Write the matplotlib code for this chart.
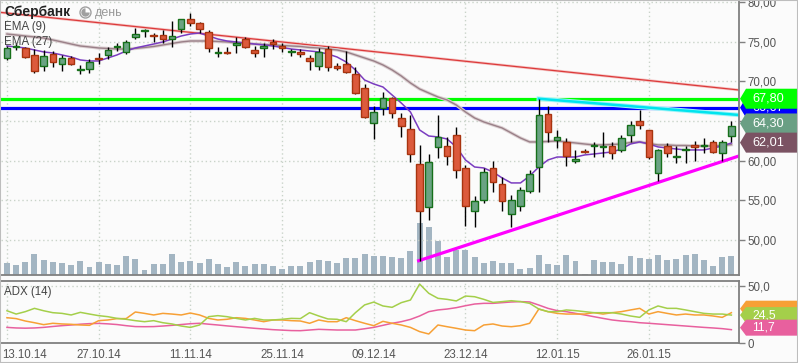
import matplotlib
matplotlib.use('Agg')
import matplotlib.pyplot as plt
from matplotlib.patches import Polygon, Rectangle, Circle, Wedge
from matplotlib.transforms import IdentityTransform
import numpy as np

plt.rcParams['font.family'] = ['Liberation Sans', 'DejaVu Sans']

# daily candles 13.10.14 .. 06.02.15
opens = [72.9, 74.3, 74.2, 73.3, 71.9, 73.45, 72.2, 72.95, 71.4, 71.55,
         72.9, 73.3, 74.3, 73.7, 75.6, 76.3, 75.85, 75.85, 75.3, 76.6,
         77.85, 77.35, 76.2, 73.6, 73.75, 74.55, 75.3, 73.95, 74.15, 75.0,
         74.45, 73.7, 73.65, 72.9, 71.95, 74.05, 71.9, 72.2, 70.9, 69.1,
         64.75, 66.6, 67.87, 65.35, 63.96, 59.55, 54.2, 61.7, 61.85, 63.24,
         59.05, 53.7, 55.05, 59.05, 57.07, 53.25, 54.3, 56.2, 59.17, 65.9,
         62.6, 62.35, 59.95, 61.25, 61.8, 61.7, 61.9, 61.35, 63.25, 65.0,
         63.8, 58.45, 61.9, 60.5, 61.35, 61.95, 61.85, 62.4, 60.9, 63.05]
highs = [74.45, 74.8, 74.3, 74.1, 74.0, 73.8, 73.3, 73.2, 72.1, 72.8,
         73.6, 74.3, 74.8, 75.15, 76.7, 76.6, 76.1, 76.5, 77.6, 77.9,
         78.6, 77.5, 76.5, 74.3, 74.3, 75.6, 75.6, 74.4, 74.8, 75.3,
         74.8, 74.05, 74.05, 73.3, 74.15, 74.4, 72.3, 73.85, 71.8, 69.7,
         66.9, 68.7, 68.07, 66.05, 65.76, 62.0, 60.85, 65.76, 62.95, 64.2,
         59.46, 55.47, 59.05, 59.97, 57.9, 55.7, 56.73, 58.83, 67.8, 66.9,
         63.9, 62.9, 61.3, 61.4, 62.35, 63.6, 62.3, 63.25, 64.95, 66.4,
         63.9, 61.4, 62.2, 61.8, 61.9, 62.45, 62.85, 62.65, 62.55, 64.95]
lows = [72.7, 73.95, 72.9, 71.05, 71.3, 71.8, 71.3, 72.1, 70.9, 71.05,
        72.2, 72.8, 73.8, 73.5, 75.3, 75.6, 75.0, 74.8, 74.3, 76.1,
        77.0, 76.1, 73.7, 73.1, 73.5, 73.6, 74.2, 73.0, 73.0, 74.05,
        73.75, 73.2, 73.1, 71.4, 71.4, 71.35, 71.4, 71.0, 68.4, 65.35,
        62.7, 65.76, 65.35, 63.03, 59.88, 47.37, 52.45, 60.3, 59.46, 57.8,
        51.7, 51.65, 54.7, 56.1, 53.7, 51.6, 53.6, 55.9, 56.1, 62.3,
        61.6, 59.3, 59.7, 60.9, 60.4, 60.45, 60.25, 61.1, 62.4, 64.0,
        60.25, 57.4, 60.4, 59.7, 59.7, 60.0, 60.9, 60.9, 60.0, 62.35]
closes = [74.2, 74.45, 73.1, 71.3, 73.2, 72.4, 72.9, 72.2, 71.5, 72.45,
          72.8, 73.95, 74.4, 74.95, 75.97, 76.4, 75.7, 75.3, 75.7, 77.85,
          77.35, 76.6, 74.2, 73.7, 73.6, 74.8, 74.3, 73.6, 74.5, 74.7,
          74.15, 73.8, 73.4, 72.5, 73.7, 71.8, 71.7, 71.2, 68.55, 65.55,
          66.15, 67.87, 65.97, 64.3, 60.85, 53.7, 59.88, 63.03, 60.6, 58.83,
          54.33, 54.84, 58.6, 57.3, 54.84, 55.05, 56.3, 58.33, 65.76, 63.6,
          63.0, 60.55, 60.25, 61.1, 61.9, 61.8, 60.9, 62.8, 64.5, 64.45,
          60.5, 61.3, 60.9, 60.6, 61.45, 61.7, 61.95, 61.05, 62.4, 64.3]
volumes = [123, 100, 130, 210, 150, 130, 120, 100, 140, 80,
           130, 110, 100, 190, 160, 50, 110, 110, 210, 130,
           140, 120, 160, 110, 80, 130, 90, 110, 110, 90,
           60, 90, 90, 130, 150, 140, 120, 170, 170, 210,
           190, 190, 180, 170, 240, 520, 480, 340, 180, 250,
           250, 180, 120, 140, 120, 120, 60, 70, 200, 110,
           100, 200, 140, 10, 150, 130, 130, 110, 190, 170,
           160, 200, 150, 160, 200, 210, 150, 90, 180, 190]
ema9 = [74.45, 74.33, 74.20, 73.95, 73.70, 73.57, 73.32, 73.06, 72.69, 72.56,
        72.56, 72.94, 73.32, 73.82, 74.20, 74.45, 74.70, 74.96, 75.33, 75.71,
        75.96, 76.09, 75.71, 75.33, 75.08, 74.96, 74.83, 74.70, 74.58, 74.45,
        74.26, 74.07, 73.95, 73.82, 73.70, 73.44, 73.06, 72.43, 71.43, 70.16,
        69.66, 69.28, 68.27, 67.26, 66.13, 63.86, 63.10, 62.98, 62.72, 61.72,
        60.08, 59.19, 59.07, 58.56, 57.81, 57.18, 57.18, 58.06, 59.19, 60.08,
        60.45, 60.45, 60.45, 60.71, 60.83, 60.96, 61.09, 61.46, 62.09, 62.35,
        62.09, 61.72, 61.59, 61.46, 61.34, 61.34, 61.34, 61.59, 61.84, 62.22]
ema27 = [75.96, 75.84, 75.71, 75.59, 75.46, 75.21, 74.96, 74.70, 74.45, 74.33,
         74.20, 74.14, 74.07, 74.07, 74.14, 74.26, 74.39, 74.58, 74.77, 74.96,
         75.08, 75.08, 75.08, 75.02, 74.96, 74.83, 74.77, 74.70, 74.64, 74.58,
         74.51, 74.45, 74.39, 74.26, 74.20, 74.07, 73.95, 73.70, 73.32, 72.94,
         72.56, 72.06, 71.43, 70.67, 69.79, 69.03, 68.52, 68.02, 67.64, 67.01,
         66.13, 65.37, 64.87, 64.49, 64.11, 63.48, 62.85, 62.35, 62.35, 62.41,
         62.47, 62.35, 62.22, 62.09, 61.97, 61.97, 62.03, 62.09, 62.28, 62.35,
         62.16, 61.97, 61.97, 61.90, 61.90, 61.84, 61.84, 61.84, 61.90, 62.01]
adx = [13.7, 13.2, 13.0, 13.2, 13.7, 14.5, 15.2, 15.8, 16.5, 17.0,
       17.2, 16.8, 16.2, 15.2, 14.4, 14.3, 14.4, 14.9, 15.5, 16.2,
       16.9, 17.3, 16.5, 15.8, 15.0, 14.3, 13.6, 12.9, 12.3, 11.7,
       11.3, 10.9, 10.8, 11.4, 12.0, 11.7, 11.4, 11.4, 11.4, 12.5,
       13.7, 15.5, 17.3, 18.7, 20.7, 23.7, 27.5, 29.0, 29.8, 31.0,
       32.7, 34.2, 34.8, 34.8, 35.4, 36.0, 36.3, 36.0, 33.3, 30.4,
       28.4, 27.5, 26.0, 24.6, 23.1, 21.6, 20.2, 19.3, 18.7, 17.8,
       17.3, 16.7, 16.1, 15.5, 14.9, 14.3, 13.7, 13.2, 12.6, 11.7]
di_green = [28.3, 25.4, 27.5, 30.4, 28.3, 26.6, 26.0, 24.6, 26.9, 25.4,
            24.0, 23.1, 21.6, 20.8, 19.6, 18.7, 19.6, 17.8, 16.7, 14.9,
            13.7, 15.8, 23.1, 24.0, 23.1, 21.6, 20.2, 21.6, 20.2, 20.2,
            20.8, 21.6, 21.4, 26.6, 23.7, 21.1, 20.8, 18.7, 26.6, 33.4,
            35.9, 32.5, 31.3, 35.4, 37.7, 51.7, 43.6, 39.2, 38.3, 36.9,
            41.2, 40.6, 38.3, 35.6, 36.3, 37.1, 36.3, 34.8, 29.8, 27.5,
            27.5, 29.0, 28.4, 27.5, 26.6, 26.6, 26.6, 25.4, 23.7, 22.5,
            29.0, 32.5, 30.4, 30.4, 29.0, 27.5, 26.0, 25.4, 25.4, 24.5]
di_orange = [22.2, 21.4, 19.3, 17.8, 16.1, 17.3, 16.7, 16.4, 15.8, 15.5,
             19.6, 20.2, 21.4, 21.4, 27.2, 26.0, 24.6, 26.0, 25.4, 24.6,
             26.3, 24.6, 21.6, 20.2, 20.8, 22.2, 21.6, 20.2, 18.7, 20.2,
             20.2, 19.6, 19.3, 17.3, 20.2, 18.7, 18.7, 22.2, 19.6, 17.3,
             15.2, 19.0, 17.3, 15.8, 13.7, 10.0, 7.9, 15.8, 14.3, 12.9,
             11.4, 10.8, 15.8, 16.7, 14.9, 14.3, 15.2, 17.3, 29.8, 27.5,
             26.0, 25.4, 25.4, 25.4, 26.6, 25.4, 26.6, 27.5, 29.0, 30.4,
             25.4, 27.5, 26.0, 24.6, 25.4, 24.6, 24.6, 23.7, 22.5, 26.6]
date_pos = [0, 10, 20, 30, 40, 50, 60, 70]
date_labels = ['13.10.14', '27.10.14', '11.11.14', '25.11.14', '09.12.14',
               '23.12.14', '12.01.15', '26.01.15']
level_green = 67.80
level_blue = 66.67
red_x, red_y = [-0.65, 79.83], [78.68, 68.9]
cyan_x, cyan_y = [58, 79.83], [67.8, 65.75]
mag_x, mag_y = [44.9, 79.83], [47.37, 60.58]

W, H = 798, 363
BG = '#fbfbfb'
GRID = '#c9d3c9'
fig = plt.figure(figsize=(W / 100, H / 100), dpi=100)
fig.patch.set_facecolor(BG)


def box(x0, y0, x1, y1):
    return [x0 / W, 1 - y1 / H, (x1 - x0) / W, (y1 - y0) / H]


XL = (-0.65, 79.83)
ax_v = fig.add_axes(box(1, 0, 739, 275))
ax = fig.add_axes(box(1, 0, 739, 275))
ax_adx = fig.add_axes(box(1, 281, 739, 343))

# volume (back layer)
ax_v.set_facecolor(BG)
idx = np.arange(len(opens))
ax_v.bar(idx, volumes, width=0.65, color='#a3b5c2', zorder=2)
ax_v.set_ylim(0, 2750)
ax_v.set_xlim(*XL)
ax_v.set_xticks([])
ax_v.set_yticks([])
for s in ax_v.spines.values():
    s.set_visible(False)
for p in date_pos:
    ax_v.axvline(p, color=GRID, lw=1, ls=(0, (1, 2)), zorder=1)

# price layer
ax.patch.set_visible(False)
ax.set_xlim(*XL)
ax.set_ylim(45.57, 80.25)
for v in range(50, 81, 5):
    ax.axhline(v, color=GRID, lw=1, ls=(0, (1, 2)), zorder=0)

ax.plot(red_x, red_y, color='#f5c6c6', lw=2.0, zorder=1)
ax.plot(red_x, red_y, color='#dc3a3a', lw=0.9, zorder=1)
ax.axhline(level_green, color='#00ff00', lw=2.3, zorder=2)
ax.axhline(level_blue, color='#0000ff', lw=2.3, zorder=2)
ax.plot(cyan_x, cyan_y, color='#9ff4f8', lw=3.2, zorder=2)
ax.plot(cyan_x, cyan_y, color='#00e4ee', lw=1.8, zorder=2)
ax.plot(mag_x, mag_y, color='#ff00ff', lw=2.3, zorder=2)

ax.plot(idx, ema27, color='#dcd0d2', lw=2.4, zorder=2)
ax.plot(idx, ema27, color='#9a8088', lw=1.0, zorder=2)
ax.plot(idx, ema9, color='#7a3cc0', lw=1.1, zorder=2)

o, hi, lo, c = map(np.array, (opens, highs, lows, closes))
up = c >= o
ax.vlines(idx, lo, hi, color='black', lw=1, zorder=3)
body_lo = np.minimum(o, c)
body_h = np.maximum(np.abs(c - o), 0.12)
ax.bar(idx[up], body_h[up], bottom=body_lo[up], width=0.72,
       color='#6aa383', edgecolor='#16701a', lw=1, zorder=4)
ax.bar(idx[~up], body_h[~up], bottom=body_lo[~up], width=0.72,
       color='#dc5a3c', edgecolor='#a8340f', lw=1, zorder=4)

ax.set_xticks([])
ax.yaxis.tick_right()
ax.set_yticks(range(50, 81, 5))
ax.set_yticklabels([f'{v},00' for v in range(50, 81, 5)])
ax.tick_params(axis='y', length=4, width=1, color='#808080', labelsize=8.3,
               labelcolor='#555555', pad=2)
for k in ('left', 'top'):
    ax.spines[k].set_visible(False)
for k in ('right', 'bottom'):
    ax.spines[k].set_color('#808080')
    ax.spines[k].set_linewidth(1.3)

# ADX panel
ax_adx.set_facecolor(BG)
ax_adx.set_xlim(*XL)
ax_adx.set_ylim(0, 54.4)
for p in date_pos:
    ax_adx.axvline(p, color=GRID, lw=1, ls=(0, (1, 2)), zorder=0)
ax_adx.axhline(50, color=GRID, lw=1, ls=(0, (1, 2)), zorder=0)
ax_adx.plot(idx, adx, color='#e8609e', lw=1.1)
ax_adx.plot(idx, di_orange, color='#f7a035', lw=1.1)
ax_adx.plot(idx, di_green, color='#a4cf4a', lw=1.1)
ax_adx.yaxis.tick_right()
ax_adx.set_yticks([0, 50])
ax_adx.set_yticklabels(['0', '50,0'])
ax_adx.set_xticks(date_pos[1:])
ax_adx.set_xticklabels(date_labels[1:])
ax_adx.tick_params(axis='y', length=4, width=1, color='#808080', labelsize=8.3,
                   labelcolor='#555555', pad=2)
ax_adx.tick_params(axis='x', length=0, labelsize=8.3, labelcolor='#555555', pad=4)
ax_adx.text(-0.55, -0.1, date_labels[0], transform=ax_adx.get_xaxis_transform(),
            ha='left', va='top', fontsize=8.3, color='#555555')
ax_adx.spines['left'].set_visible(False)
for k in ('right', 'bottom', 'top'):
    ax_adx.spines[k].set_color('#808080')
    ax_adx.spines[k].set_linewidth(1.3)

# header texts
fig.text(4 / W, 1 - 12 / H, 'Сбербанк', fontsize=10, fontweight='bold',
         color='#222222', va='center')
fig.add_artist(Circle((85.5, H - 12.5), 5.5, facecolor='white', edgecolor='#a0a0a0',
                      lw=1, transform=IdentityTransform()))
fig.add_artist(Wedge((85.5, H - 12.5), 4.2, 90, 360, facecolor='#a0a0a0',
                     transform=IdentityTransform()))
fig.text(95 / W, 1 - 13 / H, 'день', fontsize=9, color='#9a9a9a', va='center')
fig.text(4 / W, 1 - 27 / H, 'EMA (9)', fontsize=8.3, color='#444444', va='center')
fig.text(4 / W, 1 - 42 / H, 'EMA (27)', fontsize=8.3, color='#444444', va='center')
fig.text(4 / W, 1 - 292 / H, 'ADX (14)', fontsize=8.3, color='#444444', va='center')


def tag(axis, value, text, color, hpx, dy, z, fs=9.2):
    yd = axis.transData.transform((0, value))[1] + dy
    x0 = axis.transAxes.transform((1, 0))[0]
    pts = [(x0 + 1, yd), (x0 + 7, yd + hpx / 2), (W, yd + hpx / 2),
           (W, yd - hpx / 2), (x0 + 7, yd - hpx / 2)]
    fig.add_artist(Polygon(pts, closed=True, transform=IdentityTransform(),
                           facecolor=color, edgecolor='none', zorder=z))
    fig.text((x0 + 13) / W, yd / H, text, color='white', fontsize=fs,
             va='center', ha='left', zorder=z + 0.1)


fig.canvas.draw()
tag(ax, level_blue, '66,67', '#0000ff', 20, 0, 5)
tag(ax, level_green, '67,80', '#00ff00', 20, 0, 5.2)
tag(ax, closes[-1], '64,30', '#6a9f84', 20, 3, 5.4)
tag(ax, ema27[-1], '62,01', '#7b5363', 20, 2, 5.6)
tag(ax_adx, di_orange[-1], '', '#f7a035', 16, 4, 5)
tag(ax_adx, di_green[-1], '24,5', '#a4cf4a', 16, 0, 5.2, fs=8.8)
tag(ax_adx, adx[-1], '11,7', '#e8609e', 16, 2, 5.4, fs=8.8)

fig.add_artist(Rectangle((0, 0), 1, 1, transform=fig.transFigure, fill=False,
                         edgecolor='#bdbdbd', lw=1.5, zorder=10))

fig.savefig('out.png', dpi=100, facecolor=fig.get_facecolor())
